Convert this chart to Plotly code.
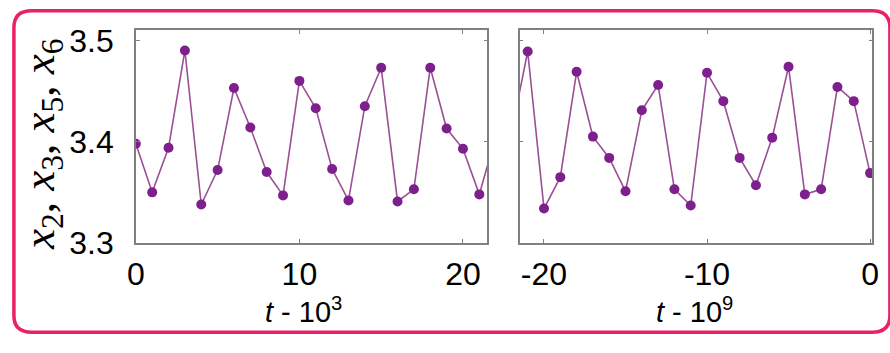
import plotly.graph_objects as go

W, H = 890, 353

# ---- data ----
t_left = list(range(0, 23))
x_left = [3.398, 3.350, 3.394, 3.490, 3.338, 3.372, 3.453, 3.414, 3.370, 3.347,
          3.460, 3.433, 3.373, 3.342, 3.435, 3.473, 3.341, 3.353, 3.473, 3.413,
          3.393, 3.348, 3.405]
t_right = list(range(-22, 1))
x_right = [3.409, 3.489, 3.334, 3.365, 3.469, 3.405, 3.384, 3.351, 3.431, 3.456,
           3.353, 3.337, 3.468, 3.440, 3.384, 3.357, 3.404, 3.474, 3.348, 3.353,
           3.454, 3.440, 3.369]
y_ticks = [3.3, 3.4, 3.5]
y_ticktext = ["3.3", "3.4", "3.5"]
left_ticks = [0, 10, 20]
left_ticktext = ["0", "10", "20"]
right_ticks = [-20, -10, 0]
right_ticktext = ["-20", "-10", "0"]
y_title = "<i>x</i><sub>2</sub>, <i>x</i><sub>3</sub>, <i>x</i><sub>5</sub>, <i>x</i><sub>6</sub>"
left_title = "<i>t</i> - 10<sup>3</sup>"
right_title = "<i>t</i> - 10<sup>9</sup>"

LINE = "#9b4f94"
MARK = "#7e1f8e"
FRAME = "#808080"
PINK = "#ea2169"

def px_x(p):
    return p / W

def px_y(p):
    return 1 - p / H

fig = go.Figure()
fig.add_trace(go.Scatter(x=t_left, y=x_left, mode="lines+markers",
                         line=dict(color=LINE, width=1.6),
                         marker=dict(color=MARK, size=10),
                         xaxis="x", yaxis="y", showlegend=False))
fig.add_trace(go.Scatter(x=t_right, y=x_right, mode="lines+markers",
                         line=dict(color=LINE, width=1.6),
                         marker=dict(color=MARK, size=10),
                         xaxis="x2", yaxis="y2", showlegend=False))

tickfont = dict(family="Liberation Sans, Arial, sans-serif", size=32, color="black")
common = dict(showline=True, linecolor=FRAME, linewidth=1.5, mirror="ticks",
              ticks="inside", ticklen=4, tickcolor=FRAME, tickwidth=1,
              showgrid=False, zeroline=False, tickfont=tickfont)

y0, y1 = 25, 254
fig.update_layout(
    width=W, height=H,
    margin=dict(l=0, r=0, t=0, b=0),
    paper_bgcolor="white", plot_bgcolor="white",
    xaxis=dict(domain=[px_x(129), px_x(486.7)], range=[0, 21.5],
               tickvals=left_ticks, ticktext=left_ticktext, anchor="y",
               ticklabelstandoff=2, **common),
    yaxis=dict(domain=[px_y(y1), px_y(y0)], range=[3.3, 3.51],
               tickvals=y_ticks, ticktext=y_ticktext, anchor="x",
               ticklabelstandoff=14, **common),
    xaxis2=dict(domain=[px_x(519.3), px_x(878.3)], range=[-21.5, 0.15],
                tickvals=right_ticks, ticktext=right_ticktext, anchor="y2",
                ticklabelstandoff=2, **common),
    yaxis2=dict(domain=[px_y(y1), px_y(y0)], range=[3.3, 3.51],
                tickvals=y_ticks, showticklabels=False, anchor="x2", **common),
)

# axis titles as annotations
fig.add_annotation(text=y_title, x=px_x(33), y=px_y(148), xref="paper", yref="paper",
                   xanchor="center", yanchor="middle",
                   textangle=-90, showarrow=False,
                   font=dict(family="Liberation Serif, serif", size=45, color="black"))
fig.add_annotation(text=left_title, x=px_x(300), y=px_y(326), xref="paper", yref="paper",
                   xanchor="center", yanchor="middle",
                   showarrow=False, font=dict(family="Liberation Sans, Arial, sans-serif", size=29, color="black"))
fig.add_annotation(text=right_title, x=px_x(697), y=px_y(326), xref="paper", yref="paper",
                   xanchor="center", yanchor="middle",
                   showarrow=False, font=dict(family="Liberation Sans, Arial, sans-serif", size=29, color="black"))

# rounded pink frame
x0p, x1p, y0p, y1p, r = 5, 896, 4, 350, 18
def P(x, y):
    return f"{px_x(x):.5f},{px_y(y):.5f}"
path = (f"M {P(x0p + r, y0p)} L {P(x1p - r, y0p)} Q {P(x1p, y0p)} {P(x1p, y0p + r)} "
        f"L {P(x1p, y1p - r)} Q {P(x1p, y1p)} {P(x1p - r, y1p)} "
        f"L {P(x0p + r, y1p)} Q {P(x0p, y1p)} {P(x0p, y1p - r)} "
        f"L {P(x0p, y0p + r)} Q {P(x0p, y0p)} {P(x0p + r, y0p)} Z")
fig.add_shape(type="path", path=path, xref="paper", yref="paper",
              line=dict(color=PINK, width=3.5), layer="above")

fig.write_html("out.html")
